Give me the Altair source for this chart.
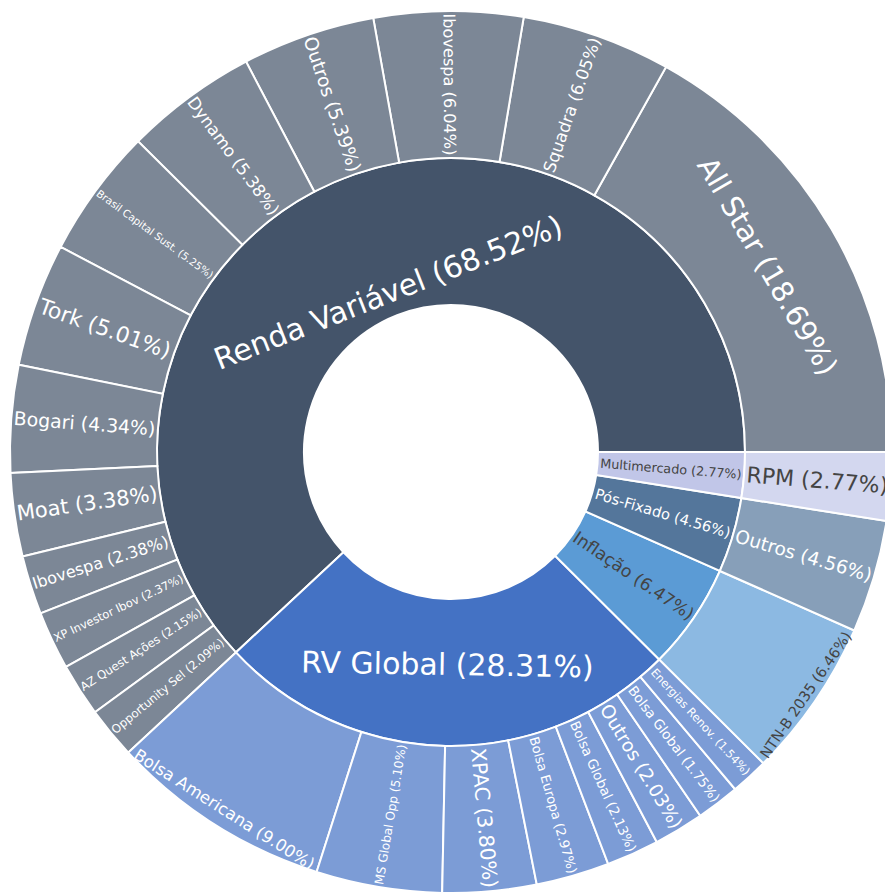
import math

import altair as alt
import pandas as pd

# Level 1: asset classes (share of the portfolio, %)
group_labels = ["Renda Variável", "RV Global", "Inflação", "Pós-Fixado", "Multimercado"]
group_values = [68.52, 28.31, 6.47, 4.56, 2.77]
group_colors = ["#44546A", "#4472C4", "#5B9BD5", "#54769B", "#C1C6E8"]

# Level 2: holdings inside each class (share of the portfolio, %)
leaf_parents = (
    ["Renda Variável"] * 13
    + ["RV Global"] * 8
    + ["Inflação", "Pós-Fixado", "Multimercado"]
)
leaf_labels = [
    "All Star", "Squadra", "Ibovespa", "Outros", "Dynamo", "Brasil Capital Sust.",
    "Tork", "Bogari", "Moat", "Ibovespa", "XP Investor Ibov", "AZ Quest Ações",
    "Opportunity Sel",
    "Bolsa Americana", "MS Global Opp", "XPAC", "Bolsa Europa", "Bolsa Global",
    "Outros", "Bolsa Global", "Energias Renov.",
    "NTN-B 2035", "Outros", "RPM",
]
leaf_values = [
    18.69, 6.05, 6.04, 5.39, 5.38, 5.25, 5.01, 4.34, 3.38, 2.38, 2.37, 2.15, 2.09,
    9.00, 5.10, 3.80, 2.97, 2.13, 2.03, 1.75, 1.54,
    6.46, 4.56, 2.77,
]

# ---- layout / style -------------------------------------------------------
W, H = 885, 892
CX, CY = 451, 452                 # centre of the sunburst
R0, R1, R2 = 147, 294, 441        # hole, inner ring, outer ring radii
RADIAL_FIT = 142                  # room for a radial label along a ring
FONT = "DejaVu Sans"
DARK_TEXT = "#444444"

# labels written along the arc instead of along the radius: (font size, radius)
TANGENTIAL = {
    "Renda Variável": (30, 170),
    "RV Global": (30, 214),
    "All Star": (29, 366),
    "Bolsa Americana": (16.6, 424),
    "NTN-B 2035": (14.6, 431),
}
DARK_LABELS = {"Inflação", "Multimercado", "NTN-B 2035", "RPM"}

# DejaVu Sans advance widths (em) used to fit radial labels to the ring width
_W = {
    " ": 0.318, "%": 0.950, "(": 0.390, ")": 0.390, "-": 0.361, ".": 0.318,
    "A": 0.684, "B": 0.686, "C": 0.698, "D": 0.770, "E": 0.632, "F": 0.575,
    "G": 0.775, "I": 0.295, "M": 0.863, "N": 0.748, "O": 0.787, "P": 0.603,
    "Q": 0.787, "R": 0.695, "S": 0.635, "T": 0.611, "V": 0.684, "X": 0.685,
    "Z": 0.685, "a": 0.613, "á": 0.613, "ã": 0.613, "b": 0.635, "c": 0.550,
    "ç": 0.550, "d": 0.635, "e": 0.615, "f": 0.352, "g": 0.635, "i": 0.278,
    "k": 0.579, "l": 0.278, "m": 0.974, "n": 0.634, "o": 0.612, "ó": 0.612,
    "õ": 0.612, "p": 0.635, "q": 0.635, "r": 0.411, "s": 0.521, "t": 0.392,
    "u": 0.634, "v": 0.592, "x": 0.592, "y": 0.592,
}


def text_em(s):
    return sum(0.636 if ch.isdigit() else _W.get(ch, 0.6) for ch in s)


TOTAL = sum(group_values)

# ---- build arc table ------------------------------------------------------
arcs = []
start = 0.0
for g, v in zip(group_labels, group_values):
    arcs.append(dict(level=1, label=g, group=g, value=v, t0=start, t1=start + v))
    cum = start
    for p, lab, lv in zip(leaf_parents, leaf_labels, leaf_values):
        if p == g:
            arcs.append(dict(level=2, label=lab, group=g, value=lv, t0=cum, t1=cum + lv))
            cum += lv
    start += v
arc_df = pd.DataFrame(arcs)

# ---- build label table ----------------------------------------------------
rows = []
for a in arcs:
    text = f"{a['label']} ({a['value']:.2f}%)"
    mid = (a["t0"] + a["t1"]) / 2
    mid_deg = mid / TOTAL * 360.0          # counter-clockwise from 3 o'clock
    if a["label"] in TANGENTIAL:
        fs, r = TANGENTIAL[a["label"]]
        ang = 90 - mid_deg if mid_deg < 180 else 270 - mid_deg
    else:
        fs = RADIAL_FIT / text_em(text)
        r = (R0 + R1) / 2 if a["level"] == 1 else (R1 + R2) / 2
        ang = 180 - mid_deg if 90 < mid_deg < 270 else -mid_deg
    rows.append(dict(text=text, mid=mid, r=r, ang=ang % 360, fs=round(fs, 2),
                     dark=a["label"] in DARK_LABELS))
label_df = pd.DataFrame(rows)

# ---- chart ----------------------------------------------------------------
theta_scale = alt.Scale(domain=[0, TOTAL], range=[2.5 * math.pi, 0.5 * math.pi], nice=False)
color_scale = alt.Scale(domain=group_labels, range=group_colors)

base = alt.Chart(arc_df).encode(
    theta=alt.Theta("t0:Q", scale=theta_scale, stack=False),
    theta2="t1:Q",
    color=alt.Color("group:N", scale=color_scale, legend=None),
    x=alt.value(CX),
    y=alt.value(CY),
)

inner = base.transform_filter("datum.level == 1").mark_arc(
    innerRadius=R0, outerRadius=R1, stroke="white", strokeWidth=2, clip=True
)
outer = base.transform_filter("datum.level == 2").mark_arc(
    innerRadius=R1, outerRadius=R2, fillOpacity=0.7, stroke="white", strokeWidth=2, clip=True
)

labels = alt.Chart(label_df).mark_text(
    font=FONT, align="center", baseline="middle", clip=True
).encode(
    theta=alt.Theta("mid:Q", scale=theta_scale, stack=False),
    radius=alt.Radius("r:Q", scale=None),
    angle=alt.Angle("ang:Q", scale=None),
    size=alt.Size("fs:Q", scale=None),
    color=alt.when("datum.dark").then(alt.value(DARK_TEXT)).otherwise(alt.value("white")),
    text="text:N",
    x=alt.value(CX),
    y=alt.value(CY),
)

chart = (
    alt.layer(inner, outer, labels)
    .properties(width=W, height=H, padding=0, background="white",
                autosize=alt.AutoSizeParams(type="none"))
    .configure_view(strokeWidth=0)
)

chart.save("out.html", embed_options={"renderer": "svg", "actions": False})
